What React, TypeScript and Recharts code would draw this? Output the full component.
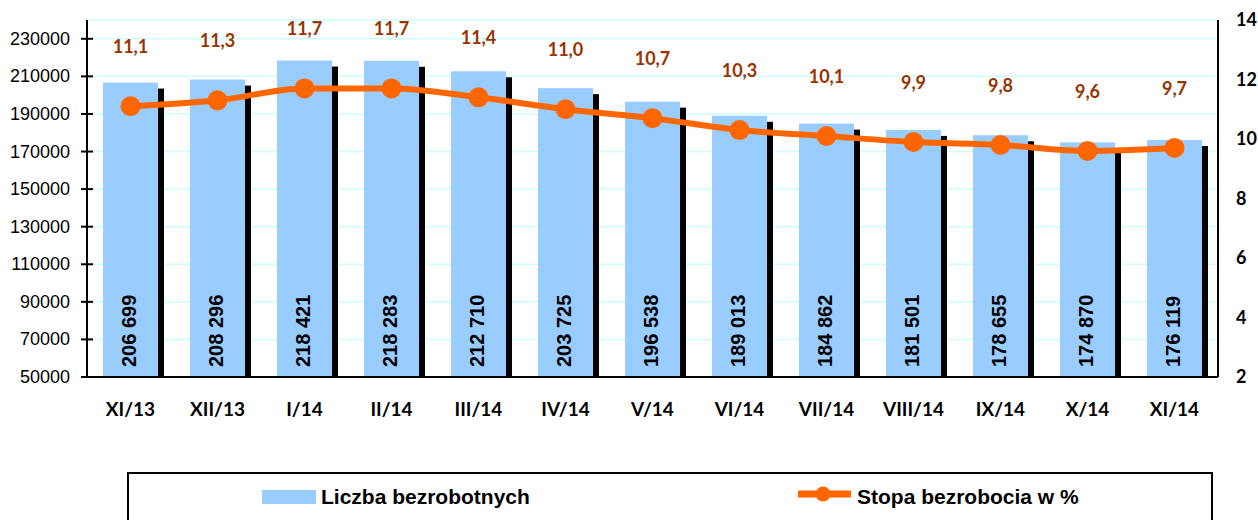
import React from 'react';
import { ComposedChart, Bar, Line, XAxis, YAxis, CartesianGrid, LabelList } from 'recharts';

const categories = ['XI/13', 'XII/13', 'I/14', 'II/14', 'III/14', 'IV/14', 'V/14', 'VI/14', 'VII/14', 'VIII/14', 'IX/14', 'X/14', 'XI/14'];
const unemployed = [206699, 208296, 218421, 218283, 212710, 203725, 196538, 189013, 184862, 181501, 178655, 174870, 176119];
const rate = [11.1, 11.3, 11.7, 11.7, 11.4, 11.0, 10.7, 10.3, 10.1, 9.9, 9.8, 9.6, 9.7];
const leftTicks = [50000, 70000, 90000, 110000, 130000, 150000, 170000, 190000, 210000, 230000];
const rightTicks = [2, 4, 6, 8, 10, 12, 14];
const leftDomain = [50000, 240000];
const rightDomain = [2, 14];
const barName = 'Liczba bezrobotnych';
const lineName = 'Stopa bezrobocia w %';

const data = categories.map((c, i) => ({ cat: c, count: unemployed[i], rate: rate[i] }));

const BLUE = '#99CCFF';
const ORANGE = '#FF6600';
const LABEL_BROWN = '#993300';
const GRID = '#CCFFFF';

const fmtThousands = (v: number) => String(v).replace(/\B(?=(\d{3})+(?!\d))/g, ' ');
const fmtRate = (v: number) => v.toFixed(1).replace('.', ',');

const ShadowBar = (props: any) => {
  const { x, y, width, height } = props;
  const off = 6;
  return (
    <g>
      <rect x={x + off} y={y + off} width={width} height={Math.max(height - off, 0)} fill="#000" />
      <rect x={x} y={y} width={width} height={height} fill={BLUE} />
    </g>
  );
};

const BarValueLabel = (props: any) => {
  const { x, y, width, height, value } = props;
  const cx = x + width / 2 - 1.5;
  const by = y + height - 10;
  return (
    <text
      x={cx}
      y={by}
      transform={`rotate(-90 ${cx} ${by})`}
      textAnchor="start"
      dominantBaseline="central"
      fontFamily="'Liberation Sans', Arial, sans-serif"
      fontWeight={700}
      fontSize={20}
      fill="#000"
    >
      {fmtThousands(value)}
    </text>
  );
};

const RateLabel = (props: any) => {
  const { x, y, value } = props;
  return (
    <text
      x={x}
      y={y - 60}
      textAnchor="middle"
      dominantBaseline="central"
      fontFamily="Lato, 'Open Sans', sans-serif"
      fontWeight={700}
      fontSize={18}
      fill={LABEL_BROWN}
    >
      {fmtRate(value)}
    </text>
  );
};

const LeftTick = (props: any) => {
  const { x, y, payload } = props;
  const axisX = x + 17;
  return (
    <g>
      <line x1={axisX - 6} x2={axisX + 6} y1={y} y2={y} stroke="#000" strokeWidth={2} />
      <text
        x={x}
        y={y}
        textAnchor="end"
        dominantBaseline="central"
        fontFamily="'Liberation Sans', Arial, sans-serif"
        fontSize={18}
        fill="#000"
      >
        {payload.value}
      </text>
    </g>
  );
};

export default function App() {
  return (
    <div style={{ position: 'absolute', left: 0, top: 0, width: 1258, height: 520, background: '#fff', overflow: 'hidden' }}>
      <ComposedChart width={1258} height={520} data={data} margin={{ top: 20, right: 0, bottom: 0, left: 0 }}>
        <CartesianGrid yAxisId="left" vertical={false} stroke={GRID} strokeWidth={1.5} />
        <XAxis
          dataKey="cat"
          height={143}
          tickLine={false}
          tickSize={0}
          tickMargin={26}
          axisLine={{ stroke: '#000', strokeWidth: 2 }}
          interval={0}
          tick={{ fill: '#000', fontFamily: 'Lato, sans-serif', fontWeight: 700, fontSize: 19 }}
        />
        <YAxis
          yAxisId="left"
          orientation="left"
          width={87}
          domain={leftDomain}
          ticks={leftTicks}
          allowDataOverflow
          tickSize={6}
          tickMargin={11}
          tickLine={false}
          axisLine={{ stroke: '#000', strokeWidth: 2 }}
          tick={<LeftTick />}
        />
        <YAxis
          yAxisId="right"
          orientation="right"
          width={40}
          domain={rightDomain}
          ticks={rightTicks}
          allowDataOverflow
          tickSize={0}
          tickMargin={18}
          tickLine={false}
          axisLine={{ stroke: '#000', strokeWidth: 2 }}
          tick={{ fill: '#000', fontFamily: 'Lato, sans-serif', fontWeight: 700, fontSize: 18 }}
        />
        <Bar yAxisId="left" dataKey="count" name={barName} barSize={55} fill={BLUE} shape={<ShadowBar />} isAnimationActive={false}>
          <LabelList dataKey="count" content={<BarValueLabel />} />
        </Bar>
        <Line
          yAxisId="right"
          type="monotone"
          dataKey="rate"
          name={lineName}
          stroke={ORANGE}
          strokeWidth={6}
          dot={{ r: 10, fill: ORANGE, stroke: ORANGE, strokeWidth: 0 }}
          activeDot={false}
          isAnimationActive={false}
        >
          <LabelList dataKey="rate" content={<RateLabel />} />
        </Line>
      </ComposedChart>
      <div
        style={{
          position: 'absolute',
          left: 127,
          top: 472,
          width: 1213 - 127,
          height: 80,
          border: '2px solid #000',
          boxSizing: 'border-box',
          pointerEvents: 'none',
        }}
      />
      <svg width={1258} height={520} style={{ position: 'absolute', left: 0, top: 0, pointerEvents: 'none' }}>
        <rect x={262} y={490} width={54} height={14} fill={BLUE} />
        <text x={321} y={504} fontFamily="'Liberation Sans', Arial, sans-serif" fontWeight={700} fontSize={21} fill="#000">
          {barName}
        </text>
        <line x1={798} x2={851} y1={494} y2={494} stroke={ORANGE} strokeWidth={7} />
        <circle cx={823} cy={494} r={7.5} fill={ORANGE} />
        <text x={857} y={504} fontFamily="'Liberation Sans', Arial, sans-serif" fontWeight={700} fontSize={21} fill="#000">
          {lineName}
        </text>
      </svg>
    </div>
  );
}
